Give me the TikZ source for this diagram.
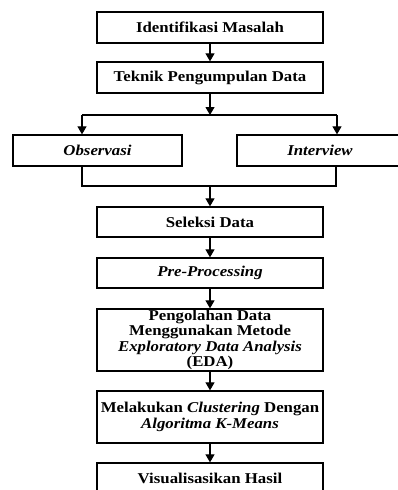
\documentclass[tikz,border=0pt]{standalone}
\usepackage{fontspec}
\setmainfont{Liberation Serif}[FakeStretch=1.12]
\usepackage{tikz}
\usetikzlibrary{arrows.meta, positioning, calc}

\begin{document}
\begin{tikzpicture}[x=1pt, y=-1pt,
    box/.style={draw, line width=1.3pt, inner sep=0pt, minimum width=226pt,
                align=center, font=\fontsize{15}{15.5}\selectfont\bfseries},
    arr/.style={line width=1.1pt, -{Triangle[width=9pt,length=8pt]}},
    link/.style={line width=1.1pt}]
\useasboundingbox (0,0) rectangle (397,490);

% Main boxes down the middle
\node[box, minimum height=31pt] (ident) at (210, 27.5) {Identifikasi Masalah};
\node[box, minimum height=31pt] (teknik) at (210, 77.5) {Teknik Pengumpulan Data};

% Two collection methods side by side
\node[box, minimum height=31pt, minimum width=169pt] (observasi) at (97.5, 150.5) {\itshape Observasi};
\node[box, minimum height=31pt, minimum width=166pt] (interview) at (320, 150.5) {\itshape Interview};

\node[box, minimum height=30pt] (seleksi) at (210, 222) {Seleksi Data};
\node[box, minimum height=30pt] (preproc) at (210, 273) {\itshape Pre-Processing};
\node[box, minimum height=62pt] (eda) at (210, 340)
    {Pengolahan Data\\Menggunakan Metode\\{\itshape Exploratory Data Analysis}\\(EDA)};
\node[box, minimum height=52pt] (kmeans) at (210, 417)
    {Melakukan {\itshape Clustering} Dengan\\{\itshape Algoritma K-Means}};
\node[box, minimum height=30pt] (visual) at (210, 478) {Visualisasikan Hasil};

% Branch points
\coordinate (split) at (210, 115);
\coordinate (obsTop) at (82, 115);
\coordinate (intTop) at (337, 115);
\coordinate (join) at (210, 186);
\coordinate (obsBot) at (82, 186);
\coordinate (intBot) at (336, 186);

% Arrows
\draw[arr] (ident) -- (teknik);
\draw[arr] (teknik) -- (split);
\draw[link] (obsTop) -- (intTop);
\draw[arr] (obsTop) -- (obsTop |- observasi.north);
\draw[arr] (intTop) -- (intTop |- interview.north);
\draw[link] (observasi.south -| obsBot) -- (obsBot) -- (intBot) -- (interview.south -| intBot);
\draw[arr] (join) -- (seleksi);
\draw[arr] (seleksi) -- (preproc);
\draw[arr] (preproc) -- (eda);
\draw[arr] (eda) -- (kmeans);
\draw[arr] (kmeans) -- (visual);
\end{tikzpicture}
\end{document}
